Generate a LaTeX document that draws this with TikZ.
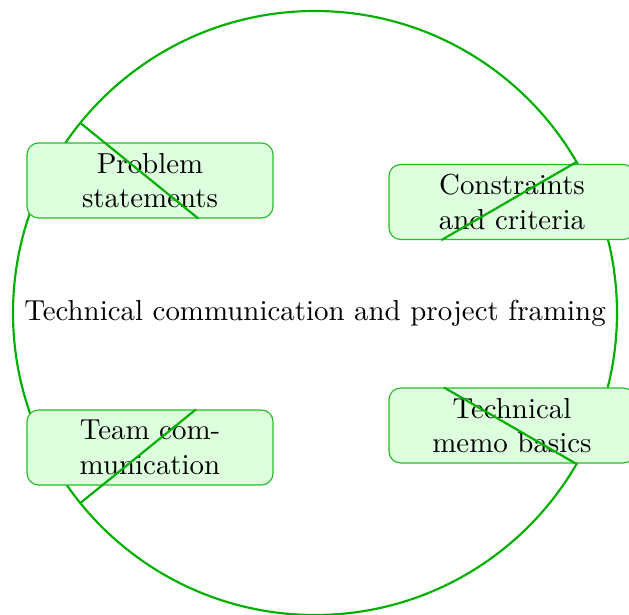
\documentclass[tikz,border=0pt]{standalone}
\usepackage{tikz}
\definecolor{Leaf}{HTML}{00B000}
\definecolor{PaleLeaf}{HTML}{DDFFDD}

\begin{document}
\begin{tikzpicture}[x=0.346pt,y=-0.346pt,
        topic/.style={draw=Leaf!85,rounded corners,fill=PaleLeaf,text width=2.2cm,align=center,
                      minimum width=246*0.346pt,minimum height=75*0.346pt,inner sep=2pt},
        ring/.style={Leaf,line width=0.75pt}
      ]
        \useasboundingbox (0,0) rectangle (629,615);
        \coordinate (c) at (315,313);
        \draw[ring] (c) circle[radius=302*0.346pt];
        \node (hub) at (c) {Technical communication and project framing};
        \node[topic] (prob) at (150,180.5) {Problem statements};
        \node[topic] (cons) at (512,202) {Constraints and criteria};
        \node[topic] (memo) at (512,425.5) {Technical memo basics};
        \node[topic] (team) at (150,447.5) {Team communication};
        % spokes from the rim in towards the hub, stopping at the box edge
        \path (c) ++(141:302*0.346pt) coordinate (p1) (c) ++(30:302*0.346pt) coordinate (p2)
              (c) ++(-30:302*0.346pt) coordinate (p3) (c) ++(219:302*0.346pt) coordinate (p4);
        \draw[ring] (p1) -- (intersection of p1--c and prob.south west--prob.south east);
        \draw[ring] (p2) -- (intersection of p2--c and cons.south west--cons.south east);
        \draw[ring] (p3) -- (intersection of p3--c and memo.north west--memo.north east);
        \draw[ring] (p4) -- (intersection of p4--c and team.north west--team.north east);
      \end{tikzpicture}
\end{document}
